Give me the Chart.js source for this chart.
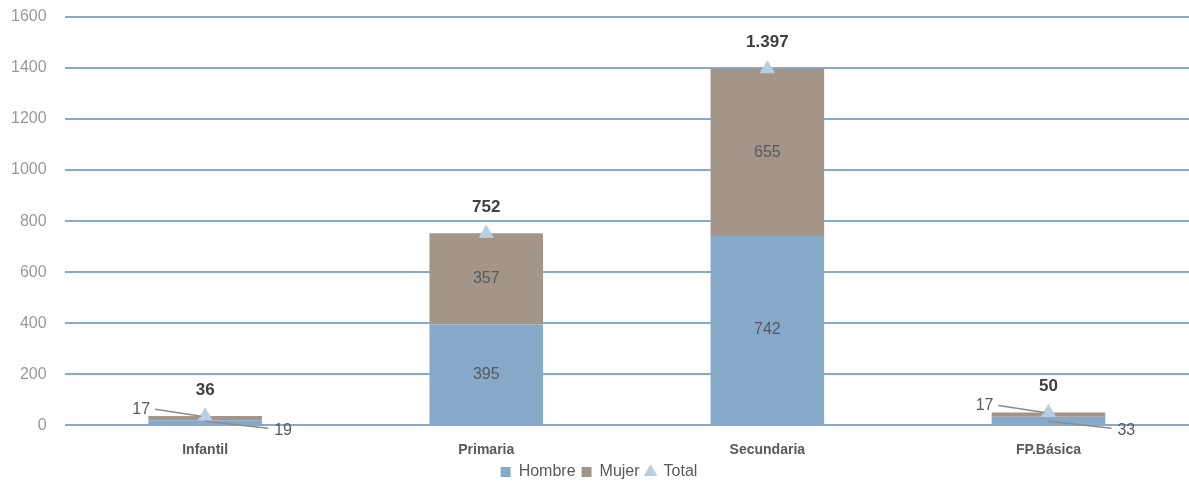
<!DOCTYPE html>
<html>
<head>
<meta charset="utf-8">
<script src="https://cdn.jsdelivr.net/npm/chart.js@4.4.0/dist/chart.umd.min.js"></script>
<style>
body { margin: 0; background: #fff; }
#wrap { width: 1189px; height: 483px; }
</style>
</head>
<body>
<div id="wrap"><canvas id="etapasChart" width="1189" height="483"></canvas></div>
<script>
const categories = ['Infantil', 'Primaria', 'Secundaria', 'FP.Básica'];
const hombre = [19, 395, 742, 33];
const mujer = [17, 357, 655, 17];
const total = [36, 752, 1397, 50];
const yTicks = [0, 200, 400, 600, 800, 1000, 1200, 1400, 1600];

const FONT = "'Liberation Sans', Arial, sans-serif";

// 1397 -> 1.397
function fmt(v) {
    return String(v).replace(/\B(?=(\d{3})+(?!\d))/g, '.');
}

// value labels, with callouts for the thin bars
const valueLabels = {
    id: 'valueLabels',
    afterDatasetsDraw(chart) {
        const ctx = chart.ctx;
        const mH = chart.getDatasetMeta(0);
        const mM = chart.getDatasetMeta(1);
        const mT = chart.getDatasetMeta(2);
        ctx.save();
        ctx.strokeStyle = '#8c8c8c';
        ctx.lineWidth = 1.5;
        categories.forEach((c, i) => {
            ctx.font = '16px ' + FONT;
            ctx.fillStyle = '#555a60';
            const bh = mH.data[i];
            const bm = mM.data[i];
            const x = bh.x;
            const hMid = (bh.y + bh.base) / 2;
            const mMid = (bm.y + bm.base) / 2;
            if (bh.base - bh.y > 25) {
                ctx.textAlign = 'center';
                ctx.textBaseline = 'middle';
                ctx.fillText(hombre[i], x, hMid);
                ctx.fillText(mujer[i], x, mMid);
            } else {
                // Hombre: down-right
                ctx.beginPath();
                ctx.moveTo(x, bh.base - 3);
                ctx.lineTo(x + 63, bh.base + 4);
                ctx.stroke();
                ctx.textAlign = 'left';
                ctx.textBaseline = 'middle';
                ctx.fillText(hombre[i], x + 69, bh.base + 6);
                // Mujer: up-left
                const ty = mMid - 9;
                ctx.beginPath();
                ctx.moveTo(x - 50, ty);
                ctx.lineTo(x - 4, mMid - 2);
                ctx.stroke();
                ctx.textAlign = 'right';
                ctx.fillText(mujer[i], x - 55, ty);
            }
            const p = mT.data[i];
            ctx.font = 'bold 17px ' + FONT;
            ctx.fillStyle = '#404040';
            ctx.textAlign = 'center';
            ctx.fillText(fmt(total[i]), p.x, p.y - 26);
        });
        ctx.restore();
    }
};

const ctx = document.getElementById('etapasChart').getContext('2d');
new Chart(ctx, {
    data: {
        labels: categories,
        datasets: [{
            type: 'bar',
            label: 'Hombre',
            data: hombre,
            backgroundColor: '#86a8c9',
            pointStyle: 'rect',
            stack: 'alumnos'
        }, {
            type: 'bar',
            label: 'Mujer',
            data: mujer,
            backgroundColor: '#a39689',
            pointStyle: 'rect',
            stack: 'alumnos'
        }, {
            type: 'line',
            label: 'Total',
            data: total,
            showLine: false,
            pointStyle: 'triangle',
            pointRadius: 8,
            backgroundColor: '#b8cfe2',
            borderColor: '#b8cfe2',
            stack: 'total',
            clip: false,
            order: -1
        }]
    },
    options: {
        responsive: false,
        animation: false,
        barPercentage: 0.404,
        categoryPercentage: 1,
        layout: { autoPadding: false, padding: { top: 17, right: 0, left: 9, bottom: -7 } },
        plugins: {
            tooltip: { enabled: false },
            legend: {
                position: 'bottom',
                labels: {
                    usePointStyle: true,
                    boxWidth: 10,
                    boxHeight: 10,
                    padding: 6,
                    color: '#595959',
                    font: { family: FONT, size: 16 },
                    sort: (a, b) => a.datasetIndex - b.datasetIndex
                }
            }
        },
        scales: {
            x: {
                stacked: true,
                grid: { display: false },
                border: { display: false },
                afterFit: s => { s.height -= 10; },
                ticks: {
                    color: '#595959',
                    padding: 9,
                    font: { family: FONT, size: 14, weight: 'bold' }
                }
            },
            y: {
                stacked: true,
                min: 0,
                max: 1600,
                afterBuildTicks: axis => { axis.ticks = yTicks.map(v => ({ value: v })); },
                grid: { color: '#86a9cf', lineWidth: 2, drawTicks: true, tickLength: 16, tickColor: 'rgba(0,0,0,0)' },
                border: { display: false },
                ticks: {
                    color: '#999999',
                    padding: 2,
                    callback: v => String(v),
                    font: { family: FONT, size: 16 }
                }
            }
        }
    },
    plugins: [valueLabels]
});
</script>
</body>
</html>
